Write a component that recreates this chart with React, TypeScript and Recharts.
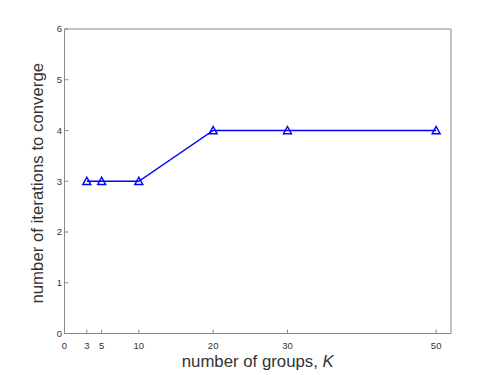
import React from 'react';
import { LineChart, Line, XAxis, YAxis } from 'recharts';

const groupCounts = [3, 5, 10, 20, 30, 50];
const iterations = [3, 3, 3, 4, 4, 4];
const xTicks = [0, 3, 5, 10, 20, 30, 50];
const yTicks = [0, 1, 2, 3, 4, 5, 6];

const data = groupCounts.map((k, i) => ({ k, it: iterations[i] }));

const AXIS = '#8a8a8a';
const TXT = '#333333';
const BLUE = '#0000ff';
const FONT = '"Liberation Sans", Arial, Helvetica, sans-serif';

const Tri = (props: any) => {
  const { cx, cy } = props;
  if (cx == null || cy == null) return null;
  const w = 4;
  const pts = `${cx - w},${cy + 3.3} ${cx + w},${cy + 3.3} ${cx},${cy - 4}`;
  return <polygon points={pts} fill="none" stroke={BLUE} strokeWidth={1.4} />;
};

export default function App() {
  return (
    <div style={{ position: 'absolute', left: 0, top: 0, background: '#fff' }}>
      <LineChart
        width={498}
        height={375}
        data={data}
        margin={{ top: 0, right: 0, bottom: 0, left: 0 }}
        style={{ fontFamily: FONT }}
      >
        <XAxis
          xAxisId="bottom"
          dataKey="k"
          type="number"
          domain={[0, 52]}
          ticks={xTicks}
          orientation="bottom"
          height={41.5}
          stroke={AXIS}
          tickSize={-4}
          tickMargin={12.5}
          tick={{ fill: TXT, fontSize: 9.5, fontFamily: FONT }}
          interval={0}
          allowDecimals
          label={(p: any) => {
            const vb = p.viewBox;
            return (
              <text
                x={vb.x + vb.width / 2}
                y={vb.y + 33}
                textAnchor="middle"
                fontSize={16.8}
                fill={TXT}
                fontFamily={FONT}
              >
                number of groups, <tspan fontStyle="italic">K</tspan>
              </text>
            );
          }}
        />
        <XAxis
          xAxisId="top"
          dataKey="k"
          type="number"
          domain={[0, 52]}
          ticks={xTicks}
          orientation="top"
          height={29}
          stroke={AXIS}
          tickSize={-4}
          tick={false}
          interval={0}
        />
        <YAxis
          yAxisId="left"
          type="number"
          domain={[0, 6]}
          ticks={yTicks}
          orientation="left"
          width={64.5}
          stroke={AXIS}
          tickSize={-4}
          tickMargin={6.5}
          tick={{ fill: TXT, fontSize: 9.5, fontFamily: FONT }}
          interval={0}
          label={(p: any) => {
            const vb = p.viewBox;
            const cx = vb.x + 37;
            const cy = vb.y + vb.height / 2 + 2;
            return (
              <text
                x={cx}
                y={cy}
                textAnchor="middle"
                dominantBaseline="central"
                transform={`rotate(-90, ${cx}, ${cy})`}
                fontSize={16.8}
                fill={TXT}
                fontFamily={FONT}
              >
                number of iterations to converge
              </text>
            );
          }}
        />
        <YAxis
          yAxisId="right"
          type="number"
          domain={[0, 6]}
          ticks={yTicks}
          orientation="right"
          width={47}
          stroke={AXIS}
          tickSize={-4}
          tick={false}
          interval={0}
        />
        <Line
          xAxisId="bottom"
          yAxisId="left"
          dataKey="it"
          stroke={BLUE}
          strokeWidth={1.4}
          type="linear"
          dot={<Tri />}
          activeDot={false}
          isAnimationActive={false}
        />
      </LineChart>
    </div>
  );
}
